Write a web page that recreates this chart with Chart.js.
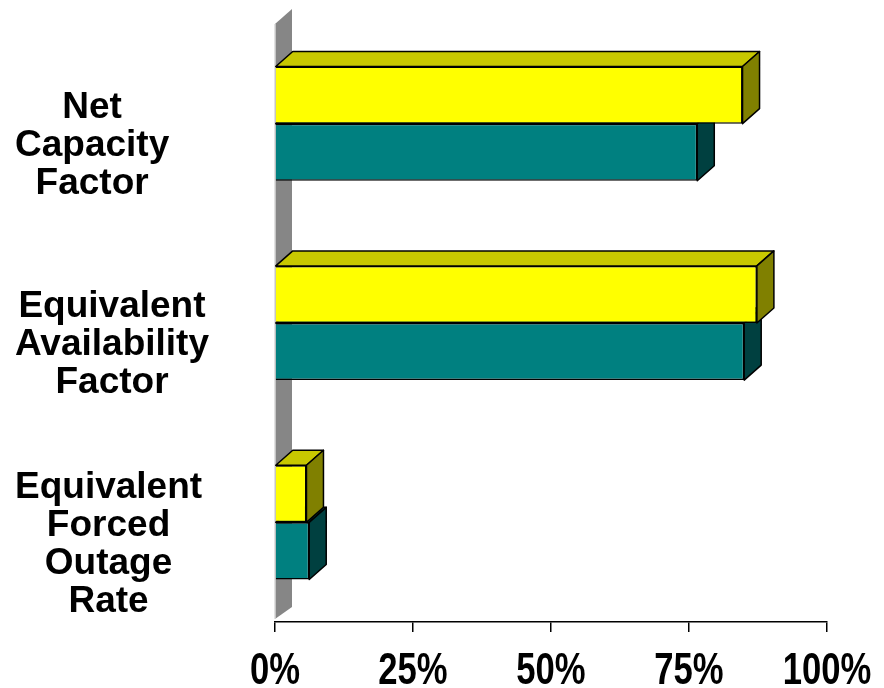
<!DOCTYPE html>
<html>
<head>
<meta charset="utf-8">
<script src="https://cdn.jsdelivr.net/npm/chart.js@4.4.0/dist/chart.umd.min.js"></script>
<style>
  html, body { margin: 0; padding: 0; background: #fff; }
</style>
</head>
<body>
<canvas id="perfChart" width="884" height="688"></canvas>
<script>
const categories = [
  ['Net', 'Capacity', 'Factor'],
  ['Equivalent', 'Availability', 'Factor'],
  ['Equivalent', 'Forced', 'Outage', 'Rate']
];
const seriesA = [84.7, 87.3, 5.7];
const seriesB = [76.5, 85.0, 6.2];
const tickValues = [0, 25, 50, 75, 100];

// face colours for the 3D look: front, top, side
const faceColors = [
  { front: '#ffff00', top: '#c8c800', side: '#808000' },
  { front: '#008080', top: '#006060', side: '#004040' }
];
const depthX = 17;
const depthY = -15;

function fillPoly(ctx, pts, color) {
  ctx.beginPath();
  ctx.moveTo(pts[0][0], pts[0][1]);
  for (let i = 1; i < pts.length; i++) ctx.lineTo(pts[i][0], pts[i][1]);
  ctx.closePath();
  ctx.fillStyle = color;
  ctx.fill();
  ctx.lineWidth = 1.5;
  ctx.strokeStyle = '#000';
  ctx.lineJoin = 'round';
  ctx.stroke();
}

const wallPlugin = {
  id: 'wall',
  beforeDatasetsDraw(chart) {
    const ctx = chart.ctx;
    const area = chart.chartArea;
    const x0 = chart.scales.x.getPixelForValue(0);
    ctx.save();
    ctx.beginPath();
    ctx.moveTo(x0, area.top);
    ctx.lineTo(x0 + depthX, area.top + depthY);
    ctx.lineTo(x0 + depthX, area.bottom + depthY);
    ctx.lineTo(x0, area.bottom - 3);
    ctx.closePath();
    ctx.fillStyle = '#868686';
    ctx.fill();
    ctx.beginPath();
    ctx.moveTo(x0, area.top);
    ctx.lineTo(x0, area.bottom - 3);
    ctx.strokeStyle = '#d8d8d8';
    ctx.lineWidth = 1.5;
    ctx.stroke();
    ctx.restore();
  }
};

const boxPlugin = {
  id: 'boxFaces',
  afterDatasetDraw(chart, args) {
    const ctx = chart.ctx;
    const colors = faceColors[args.index];
    ctx.save();
    args.meta.data.forEach(bar => {
      const p = bar.getProps(['x', 'y', 'base', 'height'], true);
      const top = p.y - p.height / 2;
      const bottom = p.y + p.height / 2;
      fillPoly(ctx, [[p.base, top], [p.x, top], [p.x + depthX, top + depthY], [p.base + depthX, top + depthY]], colors.top);
      fillPoly(ctx, [[p.x, top], [p.x + depthX, top + depthY], [p.x + depthX, bottom + depthY], [p.x, bottom]], colors.side);
    });
    ctx.restore();
  }
};

// tick labels: x ones are a narrow bold face (squeezed), y ones are centred on their own widest line
const labelsPlugin = {
  id: 'axisLabels',
  afterDraw(chart) {
    const ctx = chart.ctx;
    const xs = chart.scales.x;
    const ys = chart.scales.y;
    ctx.save();
    ctx.fillStyle = '#000';
    ctx.textAlign = 'center';

    ctx.font = 'bold 45px "Liberation Sans", Arial, sans-serif';
    ctx.textBaseline = 'alphabetic';
    xs.ticks.forEach(t => {
      const px = xs.getPixelForValue(t.value);
      ctx.save();
      ctx.translate(px, 684);
      ctx.scale(0.77, 1);
      ctx.fillText(t.value + '%', 0, 0);
      ctx.restore();
    });

    ctx.font = 'bold 37px "Liberation Sans", Arial, sans-serif';
    ctx.textBaseline = 'middle';
    const lineH = 38;
    categories.forEach((lines, i) => {
      const cy = ys.getPixelForValue(i) + 22;
      const widest = Math.max(...lines.map(l => ctx.measureText(l).width));
      const cx = 15 + widest / 2;
      lines.forEach((l, j) => {
        ctx.fillText(l, cx, cy + (j - (lines.length - 1) / 2) * lineH);
      });
    });
    ctx.restore();
  }
};

new Chart(document.getElementById('perfChart').getContext('2d'), {
  type: 'bar',
  data: {
    labels: categories,
    datasets: [
      {
        label: 'Series A',
        data: seriesA,
        backgroundColor: faceColors[0].front,
        borderColor: '#000',
        borderWidth: 1.5
      },
      {
        label: 'Series B',
        data: seriesB,
        backgroundColor: faceColors[1].front,
        borderColor: '#000',
        borderWidth: 1.5
      }
    ]
  },
  options: {
    indexAxis: 'y',
    responsive: false,
    animation: false,
    categoryPercentage: 0.573,
    barPercentage: 1.0,
    layout: { padding: { top: 24, right: 57, left: 0, bottom: 0 } },
    plugins: {
      legend: { display: false },
      tooltip: { enabled: false }
    },
    scales: {
      x: {
        min: 0,
        max: 100,
        afterBuildTicks: scale => {
          scale.ticks = tickValues.map(v => ({ value: v }));
        },
        afterFit: scale => {
          scale.height = 66;
          scale.paddingLeft = 0;
          scale.paddingRight = 0;
        },
        grid: {
          drawOnChartArea: false,
          drawTicks: true,
          tickLength: 10,
          color: '#000',
          lineWidth: 1.5
        },
        border: { display: true, color: '#000', width: 1.5 },
        ticks: { display: false }
      },
      y: {
        afterFit: scale => {
          scale.width = 275;
          scale.paddingTop = 0;
          scale.paddingBottom = 0;
        },
        grid: { display: false },
        border: { display: false },
        ticks: { display: false }
      }
    }
  },
  plugins: [wallPlugin, boxPlugin, labelsPlugin]
});
</script>
</body>
</html>
